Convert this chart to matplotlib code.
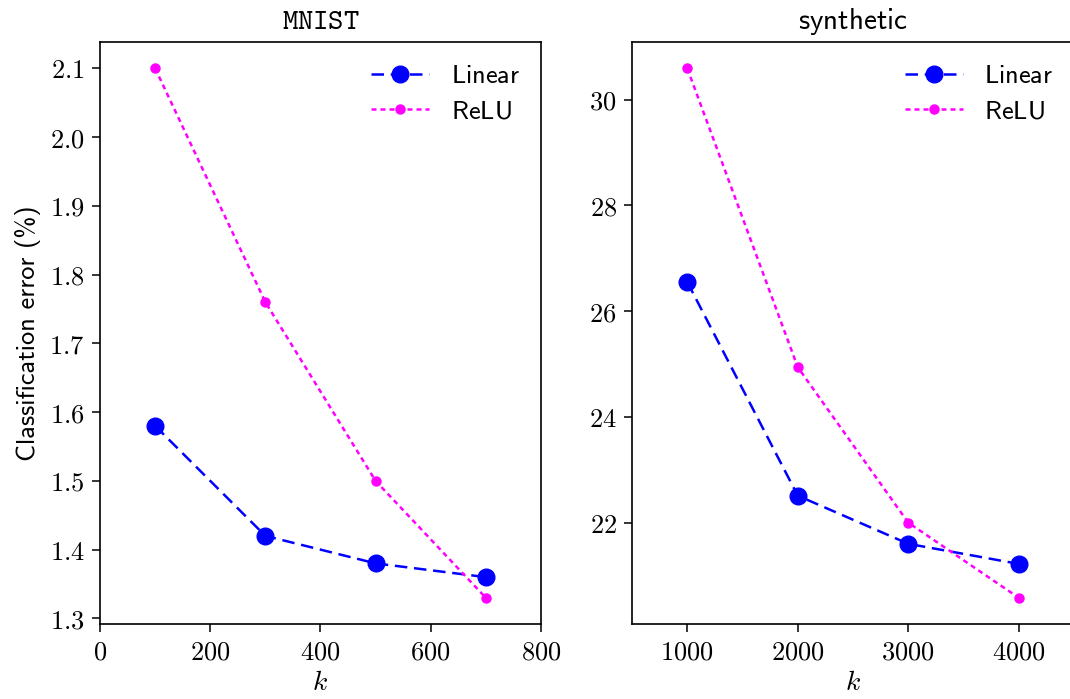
import matplotlib
matplotlib.use("Agg")
import matplotlib.pyplot as plt
from matplotlib.ticker import FuncFormatter

plt.rcParams['mathtext.fontset'] = 'cm'
plt.rcParams['font.size'] = 20

mnist_k = [100, 300, 500, 700]
mnist_linear = [1.58, 1.42, 1.38, 1.36]
mnist_relu = [2.10, 1.76, 1.50, 1.33]

syn_k = [1000, 2000, 3000, 4000]
syn_linear = [26.55, 22.51, 21.60, 21.22]
syn_relu = [30.59, 24.94, 22.00, 20.58]

fig = plt.figure(figsize=(10.7, 6.99), dpi=100)
ax1 = fig.add_axes([0.0935, 0.107, 0.412, 0.833])
ax2 = fig.add_axes([0.5907, 0.107, 0.413, 0.833])

def tex_fmt(fmt):
    return FuncFormatter(lambda v, p: "$" + (fmt % v) + "$")

for ax, k, lin, relu in [(ax1, mnist_k, mnist_linear, mnist_relu),
                         (ax2, syn_k, syn_linear, syn_relu)]:
    ax.plot(k, lin, 'o', color='blue', markersize=12, linewidth=1.8,
            linestyle=(0, (5, 2.7)), label=r'$\mathsf{Linear}$')
    ax.plot(k, relu, 'o', color='magenta', markersize=6.5, linewidth=1.8,
            linestyle=(0, (2, 1.6)), label=r'$\mathsf{ReLU}$')
    ax.set_xlabel('$k$', fontsize=20, labelpad=2)
    ax.legend(loc='upper right', frameon=False, fontsize=19,
              handlelength=2.2, borderaxespad=0.4, labelspacing=0.35)
    ax.tick_params(length=6, width=1.1, labelsize=19, pad=5)
    for s in ax.spines.values():
        s.set_linewidth(1.2)

ax1.set_xlim(0, 800)
ax1.set_xticks([0, 200, 400, 600, 800])
ax1.set_yticks([1.3, 1.4, 1.5, 1.6, 1.7, 1.8, 1.9, 2.0, 2.1])
ax1.xaxis.set_major_formatter(tex_fmt("%d"))
ax1.yaxis.set_major_formatter(tex_fmt("%.1f"))
ax1.set_title(r'$\mathtt{MNIST}$', fontsize=21, pad=9)
ax1.set_ylabel('Classification error (%)', fontfamily='cmss10', fontsize=19, labelpad=6)

ax2.set_xlim(500, 4500)
ax2.set_xticks([1000, 2000, 3000, 4000])
ax2.set_yticks([22, 24, 26, 28, 30])
ax2.xaxis.set_major_formatter(tex_fmt("%d"))
ax2.yaxis.set_major_formatter(tex_fmt("%d"))
ax2.set_title(r'$\mathsf{synthetic}$', fontsize=21, pad=9)

fig.savefig('out.png', dpi=100)
